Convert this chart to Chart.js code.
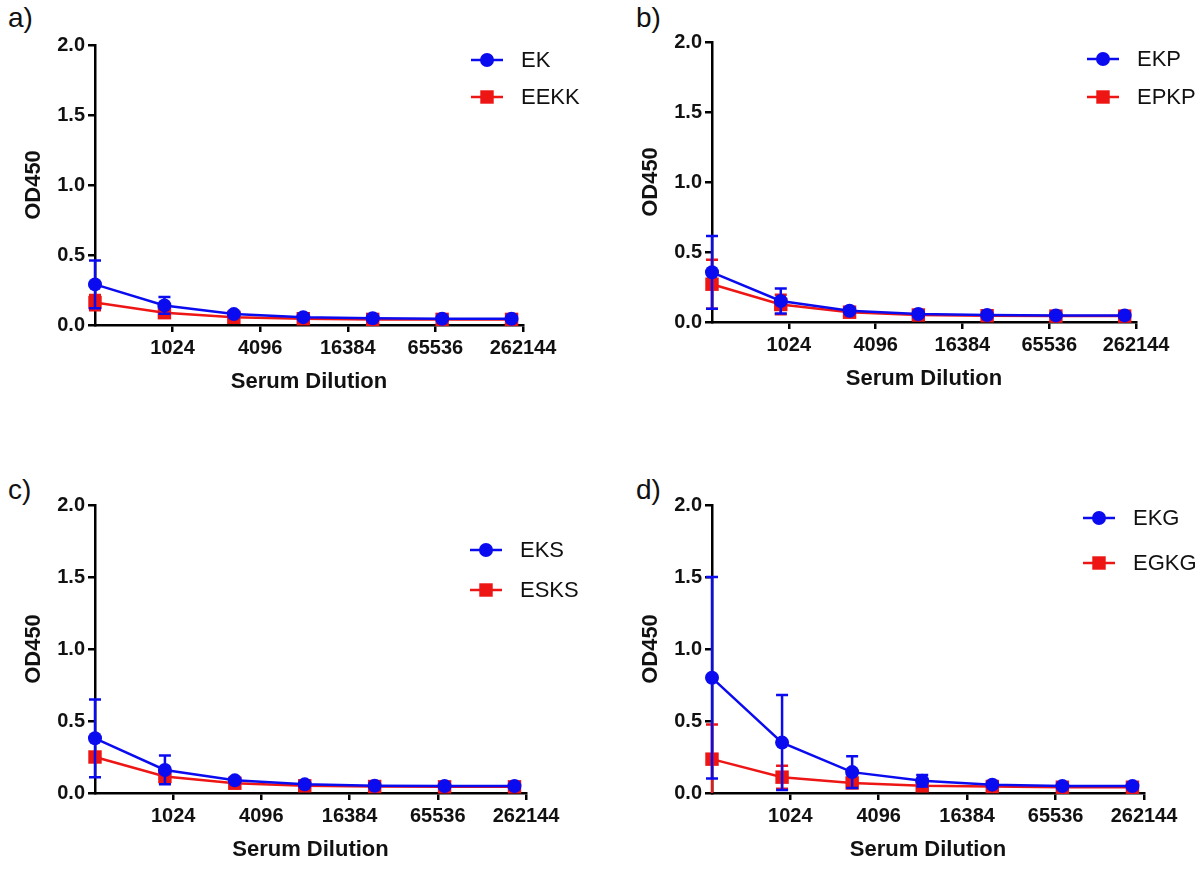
<!DOCTYPE html>
<html>
<head>
<meta charset="utf-8">
<script src="https://cdn.jsdelivr.net/npm/chart.js@4.4.1/dist/chart.umd.min.js"></script>
<style>
  html, body { margin: 0; padding: 0; background: #fff; overflow: hidden; }
  #wrap { position: relative; width: 1199px; height: 869px; }
  canvas { position: absolute; }
  .tag { position: absolute; font: 28px Arial, "Liberation Sans", sans-serif; color: #111; }
</style>
</head>
<body>
<div id="wrap">
  <div class="tag" style="left:8px;top:2px">a)</div>
  <div class="tag" style="left:636px;top:2px">b)</div>
  <div class="tag" style="left:8px;top:474px">c)</div>
  <div class="tag" style="left:636px;top:474px">d)</div>
  <canvas id="panelA" width="580" height="420"></canvas>
  <canvas id="panelB" width="580" height="420"></canvas>
  <canvas id="panelC" width="580" height="420"></canvas>
  <canvas id="panelD" width="580" height="420"></canvas>
</div>
<script>
// serum dilutions (3-fold series) and the axis ticks shown
const dilutions = [300, 900, 2700, 8100, 24300, 72900, 218700];
const xTicks = [1024, 4096, 16384, 65536, 262144];
const yMax = 2.0;
const yStep = 0.5;

// a) EK / EEKK
const ekMean   = [0.29, 0.14, 0.078, 0.056, 0.048, 0.045, 0.045];
const ekSd     = [0.17, 0.06, 0.012, 0.008, 0.006, 0.005, 0.005];
const eekkMean = [0.16, 0.088, 0.055, 0.045, 0.040, 0.040, 0.040];
const eekkSd   = [0.055, 0.03, 0.010, 0.006, 0.005, 0.005, 0.005];

// b) EKP / EPKP
const ekpMean  = [0.355, 0.15, 0.080, 0.057, 0.050, 0.047, 0.047];
const ekpSd    = [0.26, 0.09, 0.012, 0.008, 0.006, 0.005, 0.005];
const epkpMean = [0.27, 0.125, 0.070, 0.050, 0.045, 0.042, 0.042];
const epkpSd   = [0.175, 0.07, 0.012, 0.006, 0.005, 0.005, 0.005];

// c) EKS / ESKS
const eksMean  = [0.38, 0.16, 0.088, 0.060, 0.050, 0.048, 0.048];
const eksSd    = [0.27, 0.10, 0.015, 0.008, 0.006, 0.005, 0.005];
const esksMean = [0.25, 0.115, 0.068, 0.050, 0.045, 0.043, 0.043];
const esksSd   = [0.03, 0.045, 0.010, 0.006, 0.005, 0.005, 0.005];

// d) EKG / EGKG
const ekgMean  = [0.80, 0.35, 0.145, 0.085, 0.058, 0.048, 0.048];
const ekgSd    = [0.70, 0.33, 0.11, 0.040, 0.012, 0.008, 0.008];
const egkgMean = [0.235, 0.11, 0.070, 0.050, 0.045, 0.040, 0.040];
const egkgSd   = [0.24, 0.08, 0.015, 0.008, 0.006, 0.005, 0.005];

const BLUE = '#0b0bf0';
const RED = '#ee1515';
const FONT = 'Arial, "Liberation Sans", sans-serif';

Chart.defaults.font.family = FONT;
Chart.defaults.color = '#111';

// error bars drawn right after each dataset so stacking order is kept
const errorBars = {
  id: 'errorBars',
  afterDatasetDraw(chart, args) {
    const ds = chart.data.datasets[args.index];
    if (!ds.sd) return;
    const { ctx, chartArea } = chart;
    const y = chart.scales.y;
    ctx.save();
    ctx.strokeStyle = ds.borderColor;
    ctx.lineWidth = 2.5;
    args.meta.data.forEach((pt, i) => {
      const m = ds.data[i].y, s = ds.sd[i];
      const top = y.getPixelForValue(m + s);
      const bot = Math.min(y.getPixelForValue(m - s), chartArea.bottom);
      ctx.beginPath();
      ctx.moveTo(pt.x, top); ctx.lineTo(pt.x, bot);
      ctx.moveTo(pt.x - 6, top); ctx.lineTo(pt.x + 6, top);
      if (bot < chartArea.bottom) { ctx.moveTo(pt.x - 6, bot); ctx.lineTo(pt.x + 6, bot); }
      ctx.stroke();
    });
    ctx.restore();
  }
};

// legend: short line with marker, then the series name
const lineLegend = {
  id: 'lineLegend',
  afterDraw(chart, args, opts) {
    const { ctx, chartArea } = chart;
    const cx = chartArea.right + opts.dx;
    ctx.save();
    chart.data.datasets.forEach((ds, i) => {
      const cy = chartArea.top + opts.dy + i * opts.gap;
      ctx.strokeStyle = ds.borderColor;
      ctx.lineWidth = 2.5;
      ctx.beginPath();
      ctx.moveTo(cx - 16, cy); ctx.lineTo(cx + 16, cy);
      ctx.stroke();
      ctx.fillStyle = ds.pointBackgroundColor;
      Chart.helpers.drawPoint(ctx, { pointStyle: ds.pointStyle, radius: ds.pointRadius, rotation: 0, borderWidth: 0 }, cx, cy);
      ctx.fillStyle = '#111';
      ctx.font = '22px ' + FONT;
      ctx.textBaseline = 'middle';
      ctx.fillText(ds.label, cx + 34, cy + 1);
    });
    ctx.restore();
  }
};

function series(label, mean, sd, color, style, radius) {
  return {
    label,
    data: dilutions.map((d, i) => ({ x: d, y: mean[i] })),
    sd,
    borderColor: color,
    backgroundColor: color,
    pointBackgroundColor: color,
    pointBorderWidth: 0,
    pointStyle: style,
    pointRadius: radius,
    borderWidth: 2.5,
    tension: 0,
    clip: false
  };
}

function panel(id, box, legend, blue, red) {
  const cv = document.getElementById(id);
  cv.style.left = (box.left - 95) + 'px';
  cv.style.top = (box.top - 45) + 'px';
  const axisGrid = { display: true, drawOnChartArea: false, drawTicks: true, tickLength: 7, color: '#000', lineWidth: 2.5 };
  const axisBorder = { display: true, color: '#000', width: 2.5 };
  new Chart(cv, {
    type: 'line',
    data: {
      datasets: [
        series(blue.label, blue.mean, blue.sd, BLUE, 'circle', 7),
        series(red.label, red.mean, red.sd, RED, 'rect', 9.5)
      ]
    },
    options: {
      responsive: false,
      animation: false,
      events: [],
      layout: {
        padding: {
          left: 15,
          top: 45,
          right: 580 - 95 - box.width,
          bottom: 420 - 45 - box.height - 75
        }
      },
      plugins: {
        legend: { display: false },
        tooltip: { enabled: false },
        lineLegend: legend
      },
      scales: {
        x: {
          type: 'logarithmic',
          min: 300,
          max: 262144,
          afterBuildTicks: s => { s.ticks = xTicks.map(v => ({ value: v })); },
          afterFit: s => { s.height = 75; },
          grid: axisGrid,
          border: axisBorder,
          ticks: {
            color: '#111', padding: 4, maxRotation: 0, autoSkip: false,
            font: { size: 20, weight: 'bold' },
            callback: v => String(v)
          },
          title: {
            display: true, text: 'Serum Dilution', color: '#111',
            font: { size: 22, weight: 'bold' }, padding: { top: 0, bottom: 5 }
          }
        },
        y: {
          min: 0,
          max: yMax,
          afterFit: s => { s.width = 80; },
          grid: axisGrid,
          border: axisBorder,
          ticks: {
            stepSize: yStep, color: '#111', padding: 3,
            font: { size: 20, weight: 'bold' },
            callback: v => v.toFixed(1)
          },
          title: {
            display: true, text: 'OD450', color: '#111',
            font: { size: 22, weight: 'bold' }, padding: { top: 6, bottom: 0 }
          }
        }
      }
    },
    plugins: [errorBars, lineLegend]
  });
}

panel('panelA', { left: 95, top: 45, width: 428, height: 280 },
  { dx: -36, dy: 15, gap: 37 },
  { label: 'EK', mean: ekMean, sd: ekSd },
  { label: 'EEKK', mean: eekkMean, sd: eekkSd });

panel('panelB', { left: 712, top: 42, width: 424, height: 280 },
  { dx: -33, dy: 17, gap: 38 },
  { label: 'EKP', mean: ekpMean, sd: ekpSd },
  { label: 'EPKP', mean: epkpMean, sd: epkpSd });

panel('panelC', { left: 95, top: 505, width: 431, height: 288 },
  { dx: -40, dy: 45, gap: 40 },
  { label: 'EKS', mean: eksMean, sd: eksSd },
  { label: 'ESKS', mean: esksMean, sd: esksSd });

panel('panelD', { left: 712, top: 505, width: 432, height: 288 },
  { dx: -45, dy: 13, gap: 45 },
  { label: 'EKG', mean: ekgMean, sd: ekgSd },
  { label: 'EGKG', mean: egkgMean, sd: egkgSd });
</script>
</body>
</html>
